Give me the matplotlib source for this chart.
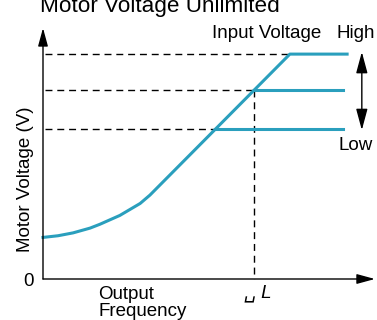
import matplotlib.pyplot as plt

plt.rcParams['font.family'] = ['Liberation Sans', 'DejaVu Sans']

# output frequency (% of axis) / motor voltage (% of axis)
curve_f = [0, 4.6, 9.2, 14.4, 17.4, 23.5, 29.7, 32.7, 75.5, 93.0]
curve_v = [17.4, 18.1, 19.3, 21.3, 22.9, 26.6, 31.6, 35.1, 94.1, 94.1]
mid_f = [64.6, 91.7]
mid_v = [79.1, 79.1]
low_f = [52.8, 91.7]
low_v = [62.8, 62.8]
levels = [94.1, 79.1, 62.8]
level_ends = [75.5, 78.0, 78.0]
base_f = 64.6

teal = '#2a9fbd'

fig = plt.figure(figsize=(3.77, 3.2), dpi=100)
ax = fig.add_axes([43/377, 41/320, 327/377, 239/320])
ax.set_xlim(0, 100)
ax.set_ylim(0, 100)
ax.axis('off')

# axes with arrow heads
arr = dict(arrowstyle='-|>,head_length=1.1,head_width=0.3', color='black', lw=1.0,
           shrinkA=0, shrinkB=0)
ax.annotate('', xy=(0, 105), xytext=(0, 0), arrowprops=arr, annotation_clip=False)
ax.annotate('', xy=(101.5, 0), xytext=(0, 0), arrowprops=arr, annotation_clip=False)

# guide lines
for lv, end in zip(levels, level_ends):
    ax.plot([0.6, end], [lv, lv], color='black', lw=1.0, ls=(0, (5, 3.5)), clip_on=False)
ax.plot([base_f, base_f], [levels[1], 0], color='black', lw=1.0, ls=(0, (5, 3.5)), clip_on=False)

# V/f curves
ax.plot(curve_f, curve_v, color=teal, lw=2.2, solid_joinstyle='round', clip_on=False)
ax.plot(mid_f, mid_v, color=teal, lw=2.2, clip_on=False)
ax.plot(low_f, low_v, color=teal, lw=2.2, clip_on=False)

# input voltage range arrow
dbl = dict(arrowstyle='<|-|>,head_length=1.3,head_width=0.35', color='black', lw=1.0,
           shrinkA=0, shrinkB=0)
ax.annotate('', xy=(97.5, 95.0), xytext=(97.5, 62.3), arrowprops=dbl, annotation_clip=False)

def ftext(x, y, s, **kw):
    fig.text(x/377, 1 - y/320, s, **kw)

ftext(40, 12, 'Motor Voltage Unlimited', fontsize=16.2, va='baseline', ha='left')
ftext(212, 38, 'Input Voltage', fontsize=13.5, va='baseline', ha='left')
ftext(337, 38, 'High', fontsize=13.5, va='baseline', ha='left')
ftext(339, 150, 'Low', fontsize=13.5, va='baseline', ha='left')
ftext(25, 179, 'Motor Voltage (V)', fontsize=13.5, rotation=90, va='center', ha='center')
ftext(28, 282, '0', fontsize=13.5, va='center', ha='center')
ftext(98, 299, 'Output', fontsize=13.5, va='baseline', ha='left')
ftext(98, 316, 'Frequency', fontsize=13.5, va='baseline', ha='left')
ftext(258, 293, '\u2423 L', fontsize=13.5, style='italic', va='center', ha='center')

fig.savefig('out.png', dpi=100)
